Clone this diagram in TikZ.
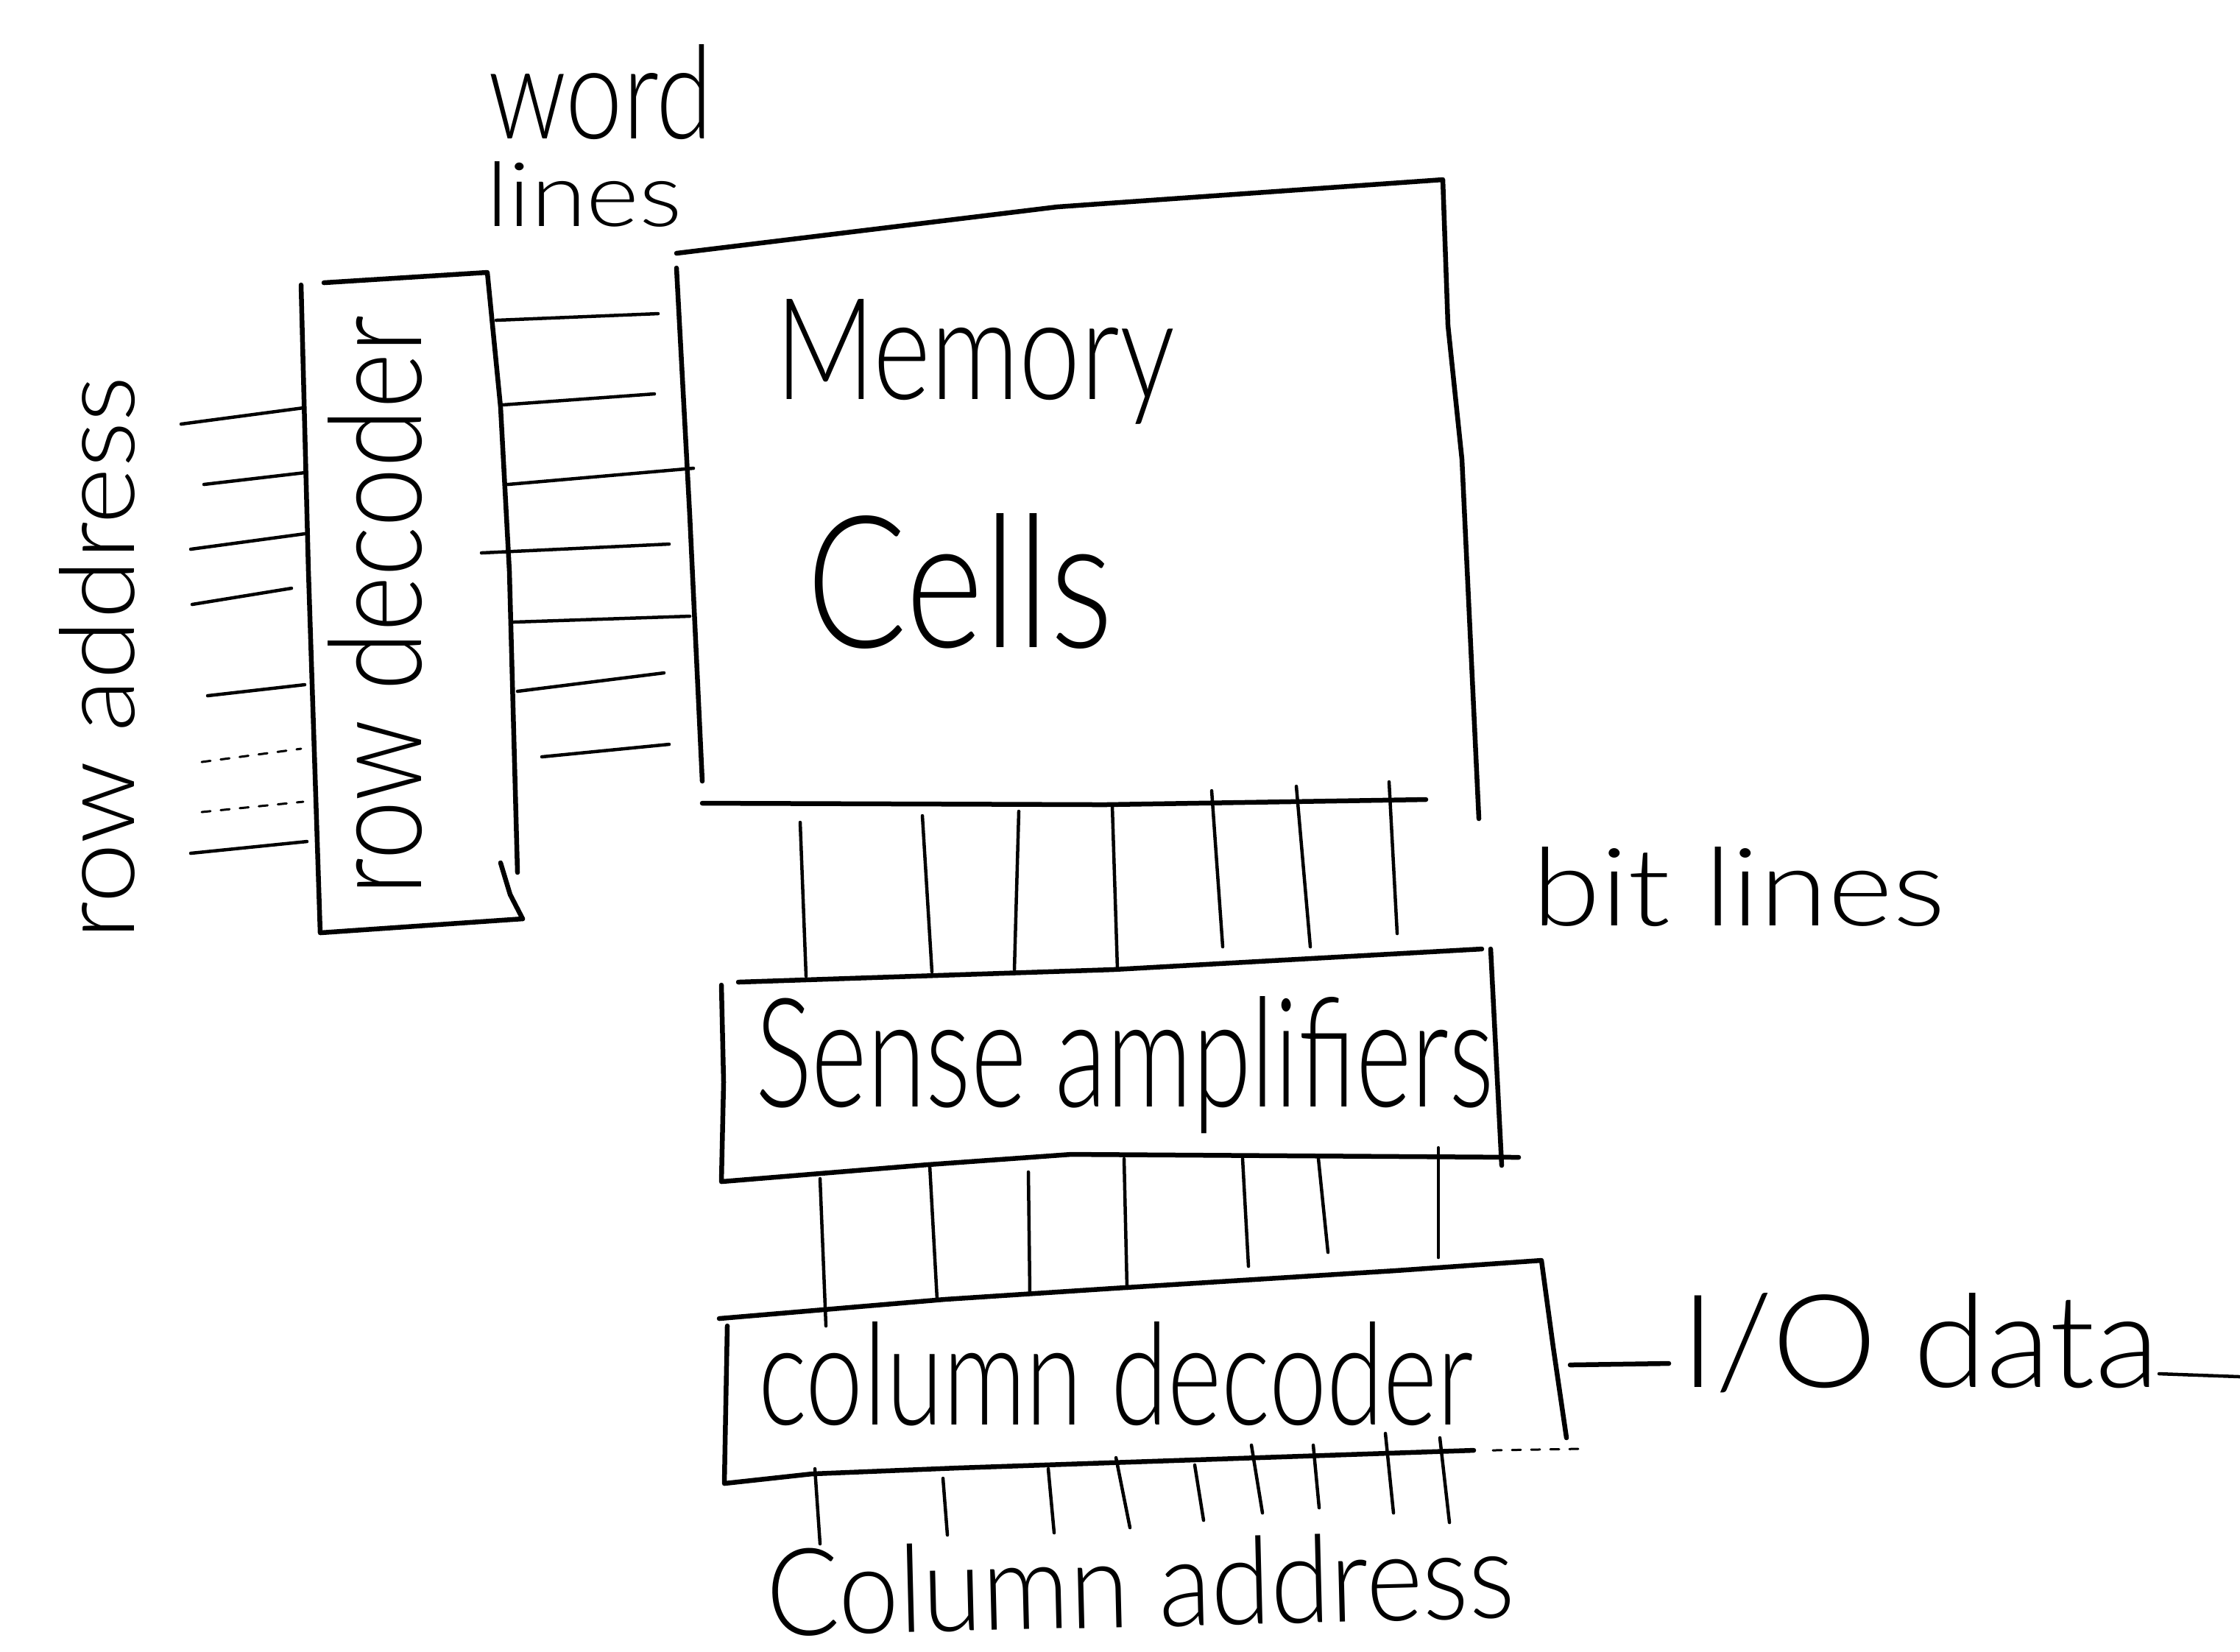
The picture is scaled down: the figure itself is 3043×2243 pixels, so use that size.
\documentclass[tikz,border=0pt]{standalone}
\usepackage{fontspec}
\IfFontExistsTF{Lato Light}{\setmainfont{Lato Light}}{\setmainfont{Lato}}
\usepackage{graphicx}
\usetikzlibrary{calc}
% text stretched to a given width and height
\newcommand{\handtext}[3]{\resizebox{#1}{#2}{#3}}

\begin{document}
\begin{tikzpicture}[x=0.1pt, y=-0.1pt, line cap=round, line join=round,
  boxedge/.style={line width=0.65pt},
  stub/.style={line width=0.45pt},
  faint/.style={line width=0.3pt, dash pattern=on 1.2pt off 1.4pt},
  label/.style={inner sep=0pt, outer sep=0pt, anchor=base west}]
\useasboundingbox (0,0) rectangle (3043,2243);

% ---------- row decoder ----------
\draw[boxedge] (409,387) -- (419,776) -- (435,1267) -- (710,1248);
\draw[boxedge] (440,384) -- (662,370) -- (680,553) -- (692,776) -- (703,1185);
\draw[boxedge] (680,1172) -- (693,1215) -- (710,1248);
\node[label, rotate=90] (rowdec) at (572,1216) {\handtext{78.7pt}{12.7pt}{row decoder}};

% row address inputs
\foreach \ax/\ay/\bx/\by in {246/576/412/554, 277/658/414/642, 259/746/414/725,
  261/821/396/799, 282/945/414/930, 259/1159/417/1143}
  \draw[stub] (\ax,\ay) -- (\bx,\by);
\draw[faint] (274,1035) -- (409,1017);
\draw[faint] (274,1103) -- (412,1089);
\node[label, rotate=90] (rowaddr) at (182,1276) {\handtext{76.5pt}{10.2pt}{row address}};

% ---------- memory cells ----------
\draw[boxedge] (919,344) -- (1436,281) -- (1960,244) -- (1967,442) -- (1986,624) -- (2009,1112);
\draw[boxedge] (919,364) -- (937,700) -- (954,1061);
\draw[boxedge] (954,1091) -- (1500,1093) -- (1937,1086);
\node[label] (mem1) at (1053,542) {\handtext{54.3pt}{13.6pt}{Memory}};
\node[label] (mem2) at (1095,879) {\handtext{41.7pt}{18.2pt}{Cells}};

% word lines
\foreach \ax/\ay/\bx/\by in {674/435/894/426, 682/550/889/535, 690/658/942/636,
  654/751/909/739, 697/845/937/837, 703/939/902/914, 736/1028/909/1011}
  \draw[stub] (\ax,\ay) -- (\bx,\by);
\node[label] (word) at (663,188) {\handtext{30.5pt}{12.8pt}{word}};
\node[label] (lines) at (660,307) {\handtext{26.7pt}{8.8pt}{lines}};

% bit lines
\foreach \ax/\ay/\bx/\by in {1087/1117/1095/1326, 1253/1108/1266/1320, 1384/1102/1378/1317,
  1511/1095/1518/1317, 1646/1074/1661/1286, 1761/1068/1780/1286, 1887/1062/1898/1268}
  \draw[stub] (\ax,\ay) -- (\bx,\by);
\node[label] (bitlines) at (2081,1257) {\handtext{56.2pt}{10.7pt}{bit lines}};

% ---------- sense amplifiers ----------
\draw[boxedge] (1003,1334) -- (1512,1317) -- (2013,1289);
\draw[boxedge] (980,1338) -- (983,1470) -- (980,1605) -- (1260,1582) -- (1455,1568) -- (2063,1572);
\draw[boxedge] (2025,1289) -- (2040,1583);
\node[label] (sense) at (1026,1503) {\handtext{100.3pt}{15pt}{Sense amplifiers}};

% amplifier outputs
\foreach \ax/\ay/\bx/\by in {1114/1601/1122/1801, 1263/1583/1273/1765, 1397/1592/1399/1756,
  1527/1574/1531/1750, 1688/1574/1696/1720, 1791/1574/1804/1701, 1954/1559/1954/1708}
  \draw[stub] (\ax,\ay) -- (\bx,\by);

% ---------- column decoder ----------
\draw[boxedge] (977,1791) -- (1283,1765) -- (1512,1750) -- (1895,1726) -- (2094,1712) -- (2110,1830) -- (2128,1953);
\draw[boxedge] (988,1801) -- (984,2015) -- (1103,2002) -- (1300,1994) -- (2002,1970);
\draw[faint] (2028,1970) -- (2144,1968);
\node[label] (coldec) at (1030,1935) {\handtext{97.2pt}{14pt}{column decoder}};

% column address inputs
\foreach \ax/\ay/\bx/\by in {1107/1995/1114/2097, 1281/2008/1287/2085, 1424/1995/1432/2082,
  1516/1980/1535/2075, 1623/1990/1635/2065, 1700/1963/1715/2055, 1784/1963/1792/2048,
  1882/1947/1893/2055, 1956/1953/1969/2068}
  \draw[stub] (\ax,\ay) -- (\bx,\by);
\node[label, rotate=1.4] (coladdr) at (1042,2222) {\handtext{101.7pt}{12pt}{Column address}};

% ---------- I/O data ----------
\coordinate (cdout) at (2133,1854);
\coordinate (iolead) at (2267,1852);
\draw[boxedge] (cdout) -- (iolead);
\node[label] (io) at (2283,1884) {\handtext{65pt}{12.8pt}{I/O data}};
\coordinate (iotail) at (3043,1870);
\draw[stub] (2933,1866) -- (iotail);
\end{tikzpicture}
\end{document}
